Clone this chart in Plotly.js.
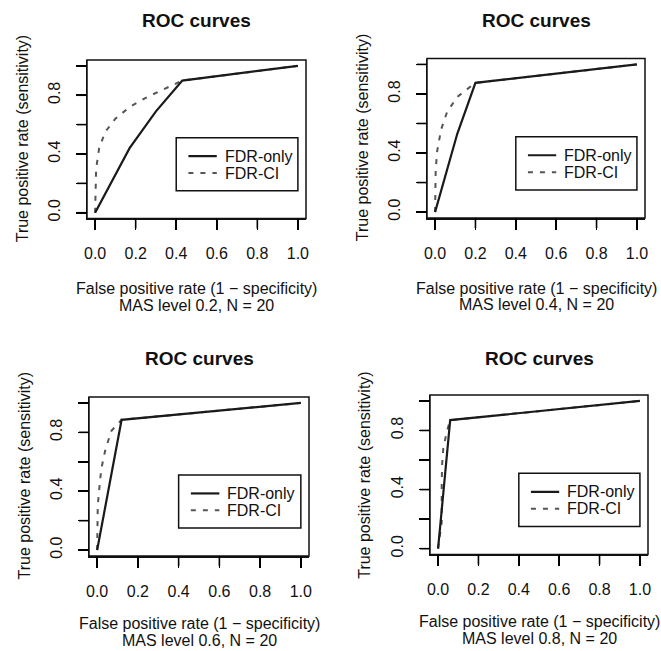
<!DOCTYPE html>
<html><head><meta charset="utf-8">
<script src="https://cdn.plot.ly/plotly-3.0.1.min.js"></script>
<style>html,body{margin:0;padding:0;background:#fff}</style>
</head><body><div id="chart" style="width:661px;height:651px"></div>
<script>
// ---- data ----
const mas_levels = ["0.2", "0.4", "0.6", "0.8"];
const n_value = 20;
const series_names = ["FDR-only", "FDR-CI"];
const x_tick_vals = [0, 0.2, 0.4, 0.6, 0.8, 1.0];
const x_tick_text = ["0.0", "0.2", "0.4", "0.6", "0.8", "1.0"];
const y_tick_vals = [0, 0.2, 0.4, 0.6, 0.8, 1.0];
const y_tick_text = ["0.0", "", "0.4", "", "0.8", ""];

const fpr_only_02 = [0, 0.17, 0.30, 0.43, 1];
const tpr_only_02 = [0, 0.44, 0.69, 0.90, 1];
const fpr_ci_02 = [0, 0.002, 0.005, 0.02, 0.05, 0.10, 0.17, 0.26, 0.35, 0.43, 1];
const tpr_ci_02 = [0, 0.15, 0.30, 0.44, 0.55, 0.64, 0.72, 0.79, 0.85, 0.90, 1];

const fpr_only_04 = [0, 0.05, 0.11, 0.20, 1];
const tpr_only_04 = [0, 0.24, 0.53, 0.875, 1];
const fpr_ci_04 = [0, 0, 0.003, 0.01, 0.03, 0.06, 0.11, 0.185, 0.20, 1];
const tpr_ci_04 = [0, 0.16, 0.28, 0.41, 0.56, 0.68, 0.78, 0.86, 0.875, 1];

const fpr_only_06 = [0, 0.06, 0.12, 1];
const tpr_only_06 = [0, 0.44, 0.885, 1];
const fpr_ci_06 = [0, 0, 0.003, 0.01, 0.02, 0.04, 0.07, 0.11, 0.12, 1];
const tpr_ci_06 = [0, 0.16, 0.30, 0.41, 0.55, 0.68, 0.81, 0.87, 0.885, 1];

const fpr_only_08 = [0, 0.03, 0.06, 1];
const tpr_only_08 = [0, 0.43, 0.87, 1];
const fpr_ci_08 = [0, 0.01, 0.018, 0.018, 0.02, 0.026, 0.043, 0.06, 1];
const tpr_ci_08 = [0, 0.10, 0.18, 0.43, 0.57, 0.68, 0.79, 0.87, 1];

const panels = [
  {fo: fpr_only_02, to: tpr_only_02, fc: fpr_ci_02, tc: tpr_ci_02},
  {fo: fpr_only_04, to: tpr_only_04, fc: fpr_ci_04, tc: tpr_ci_04},
  {fo: fpr_only_06, to: tpr_only_06, fc: fpr_ci_06, tc: tpr_ci_06},
  {fo: fpr_only_08, to: tpr_only_08, fc: fpr_ci_08, tc: tpr_ci_08}
];

// ---- layout geometry (pixels) ----
const W = 661, H = 651;
const RANGE = [-0.04, 1.04];
const boxes = [[87, 306, 60, 218.6], [427, 645, 58.5, 218], [89, 309, 397, 556], [430, 648, 395, 554.6]];
const titleY = [21, 21, 358, 358];
const xTitleOff = [[70, 87], [70, 87], [67, 84], [67, 84]];
const TICKLEN = 10;
const FONT = "Liberation Sans, Arial, Helvetica, sans-serif";
const INK = "#111";
const solidLine = {color: "#1a1a1a", width: 2.2};
const dashLine = {color: "#555", width: 2, dash: "5px,7px"};
const tickLine = {color: "#000", width: 1.6};

const traces = [];
const layout = {
  width: W, height: H,
  margin: {l: 0, r: 0, t: 0, b: 0},
  paper_bgcolor: "#fff", plot_bgcolor: "#fff",
  showlegend: false,
  font: {family: FONT, size: 16, color: INK},
  annotations: [], shapes: []
};

panels.forEach((p, i) => {
  const k = i === 0 ? "" : String(i + 1);
  const xr = "x" + k, yr = "y" + k;
  const [l, r, t, b] = boxes[i];
  traces.push({x: p.fc, y: p.tc, xaxis: xr, yaxis: yr, type: "scatter", mode: "lines",
    name: series_names[1], line: dashLine, hoverinfo: "skip"});
  traces.push({x: p.fo, y: p.to, xaxis: xr, yaxis: yr, type: "scatter", mode: "lines",
    name: series_names[0], line: solidLine, hoverinfo: "skip"});
  const common = {range: RANGE, tickmode: "array", ticks: "outside", ticklen: TICKLEN, tickwidth: 1.6,
    tickcolor: "#000", showline: true, mirror: false, linecolor: INK, linewidth: 1.5,
    showgrid: false, zeroline: false, tickfont: {family: FONT, size: 16, color: INK},
    fixedrange: true};
  layout["xaxis" + k] = Object.assign({}, common, {domain: [l / W, r / W], anchor: yr,
    tickvals: x_tick_vals, ticktext: x_tick_text, ticklabelstandoff: 10});
  layout["yaxis" + k] = Object.assign({}, common, {domain: [1 - b / H, 1 - t / H], anchor: xr,
    tickvals: y_tick_vals, ticktext: y_tick_text, tickangle: -90, ticklabelstandoff: 9});
  // plot frame (box around the plotting region)
  layout.shapes.push({type: "rect", xref: xr + " domain", yref: yr + " domain", x0: 0, x1: 1, y0: 0, y1: 1,
    line: {color: INK, width: 1.5}, fillcolor: "rgba(0,0,0,0)", layer: "above"});
  // tick marks at the axis tick values, in paper space so they are not clipped
  const span = RANGE[1] - RANGE[0];
  x_tick_vals.forEach(v => {
    const xp = (l + (v - RANGE[0]) / span * (r - l)) / W;
    layout.shapes.push({type: "line", xref: "paper", yref: "paper",
      x0: xp, x1: xp, y0: 1 - b / H, y1: 1 - (b + TICKLEN) / H, line: tickLine, layer: "above"});
  });
  y_tick_vals.forEach(v => {
    const yp = 1 - (b - (v - RANGE[0]) / span * (b - t)) / H;
    layout.shapes.push({type: "line", xref: "paper", yref: "paper",
      x0: l / W, x1: (l - TICKLEN) / W, y0: yp, y1: yp, line: tickLine, layer: "above"});
  });
  const cx = (l + r) / 2 / W;
  layout.annotations.push({xref: "paper", yref: "paper", x: cx, y: 1 - titleY[i] / H,
    text: "<b>ROC curves</b>", showarrow: false, xanchor: "center", yanchor: "middle",
    font: {family: FONT, size: 19, color: INK}});
  layout.annotations.push({xref: "paper", yref: "paper", x: (l - 65) / W, y: 1 - (t + b) / 2 / H,
    text: "True positive rate (sensitivity)", textangle: -90, showarrow: false,
    xanchor: "center", yanchor: "middle", font: {family: FONT, size: 16, color: INK}});
  layout.annotations.push({xref: "paper", yref: "paper", x: cx, y: 1 - (b + xTitleOff[i][0]) / H,
    text: "False positive rate (1 \u2212 specificity)", showarrow: false,
    xanchor: "center", yanchor: "middle", font: {family: FONT, size: 16, color: INK}});
  layout.annotations.push({xref: "paper", yref: "paper", x: cx, y: 1 - (b + xTitleOff[i][1]) / H,
    text: "MAS level " + mas_levels[i] + ", N = " + n_value, showarrow: false,
    xanchor: "center", yanchor: "middle", font: {family: FONT, size: 16, color: INK}});
  // legend box
  layout.shapes.push({type: "rect", xref: xr, yref: yr, x0: 0.40, x1: 1.0, y0: 0.15, y1: 0.51,
    line: {color: INK, width: 1.5}, fillcolor: "rgba(0,0,0,0)"});
  layout.shapes.push({type: "line", xref: xr, yref: yr, x0: 0.46, x1: 0.60, y0: 0.385, y1: 0.385,
    line: solidLine});
  layout.shapes.push({type: "line", xref: xr, yref: yr, x0: 0.46, x1: 0.60, y0: 0.27, y1: 0.27,
    line: dashLine});
  layout.annotations.push({xref: xr, yref: yr, x: 0.63, y: 0.385, text: series_names[0],
    showarrow: false, xanchor: "left", yanchor: "middle", font: {family: FONT, size: 16, color: INK}});
  layout.annotations.push({xref: xr, yref: yr, x: 0.63, y: 0.27, text: series_names[1],
    showarrow: false, xanchor: "left", yanchor: "middle", font: {family: FONT, size: 16, color: INK}});
});

Plotly.newPlot("chart", traces, layout, {displayModeBar: false, staticPlot: true});
</script>
</body></html>
